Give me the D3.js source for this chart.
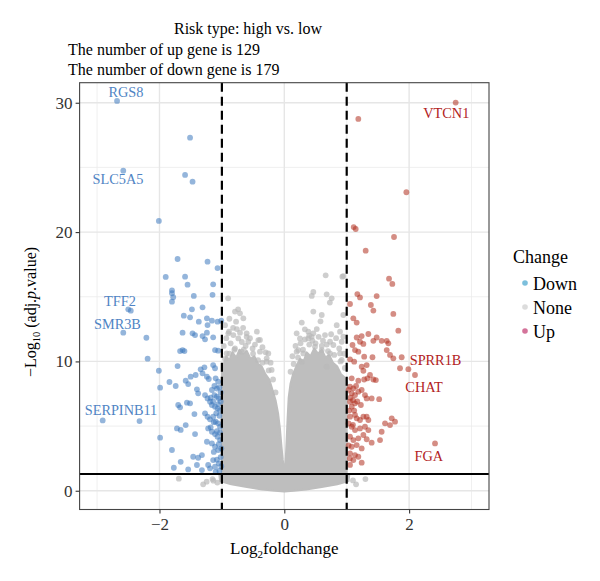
<!DOCTYPE html>
<html>
<head>
<meta charset="utf-8">
<script src="https://cdn.jsdelivr.net/npm/d3@7"></script>
<style>
  body { margin: 0; background: #fff; }
  svg text { font-family: "Liberation Serif", "Times New Roman", serif; }
</style>
</head>
<body>
<div id="chart"></div>
<script>
// volcano plot: risk type high vs low

const titleLines = ['Risk type: high vs. low', 'The number of up gene is 129', 'The number of down gene is 179'];
const xTicks = [-2, 0, 2];
const xMinor = [-3, -1, 1, 3];
const yTicks = [0, 10, 20, 30];
const yMinor = [5, 15, 25];
const fcCut = [-1, 1];
const pCut = 1.3;
const changeLevels = ['Down', 'None', 'Up'];

// significant down genes [log2FC, -log10 adj.p]
const downPoints = [
  [-2.68, 30.14], [-1.51, 27.3], [-2.58, 24.75], [-1.59, 24.42], [-1.47, 23.9], [-2.01, 20.86],
  [-1.71, 17.92], [-1.23, 17.71], [-1.07, 17.22], [-1.90, 16.53], [-1.59, 16.55], [-1.55, 15.93],
  [-1.14, 15.96], [-1.80, 15.5], [-1.80, 15.27], [-1.78, 14.96], [-1.80, 14.62], [-1.45, 15.06],
  [-1.15, 15.15], [-2.50, 14.03], [-2.46, 13.92], [-2.58, 12.22], [-2.21, 11.83], [-2.19, 10.21],
  [-2.01, 9.28], [-1.99, 7.97], [-1.84, 8.41], [-2.91, 5.44], [-2.32, 5.39], [-1.99, 4.10], [-1.77, 1.78],
  [-1.48, 14.03], [-1.31, 14.18], [-1.61, 13.54], [-1.51, 13.41], [-1.37, 13.07], [-1.24, 13.33],
  [-1.16, 13.15], [-1.07, 13.07], [-1.01, 13.15], [-1.23, 12.81], [-1.63, 12.22], [-1.47, 12.17],
  [-1.43, 12.04], [-1.31, 11.96], [-1.24, 12.22], [-1.27, 11.71], [-1.14, 11.86], [-1.67, 10.80],
  [-1.63, 10.88], [-1.60, 10.80], [-1.11, 10.88], [-1.06, 10.83], [-1.71, 9.64], [-1.74, 8.10],
  [-1.58, 8.51], [-1.50, 8.82], [-1.42, 8.95], [-1.34, 9.39], [-1.28, 9.54], [-1.24, 8.82],
  [-1.21, 8.64], [-1.14, 9.72], [-1.11, 9.47], [-1.10, 8.69], [-1.06, 8.43], [-1.31, 9.08],
  [-1.54, 8.25], [-1.40, 7.84], [-1.38, 7.53], [-1.16, 7.79], [-1.12, 7.40], [-1.08, 7.27],
  [-1.05, 7.14], [-1.27, 7.40], [-1.23, 7.14], [-1.19, 6.88], [-1.16, 6.63], [-1.11, 6.50],
  [-1.07, 6.37], [-1.03, 6.24], [-1.70, 6.63], [-1.67, 6.45], [-1.56, 6.81], [-1.51, 6.76],
  [-1.44, 5.93], [-1.27, 5.99], [-1.23, 5.72], [-1.19, 5.52], [-1.14, 5.72], [-1.10, 5.34],
  [-1.06, 5.21], [-1.03, 4.95], [-1.72, 4.82], [-1.66, 4.70], [-1.58, 5.08], [-1.43, 4.38],
  [-1.22, 4.82], [-1.16, 4.56], [-1.11, 4.38], [-1.07, 4.18], [-1.03, 3.92], [-1.24, 3.79],
  [-1.16, 3.66], [-1.11, 3.40], [-1.06, 3.15], [-1.01, 3.28], [-1.80, 3.15], [-1.66, 2.24],
  [-1.46, 2.63], [-1.38, 2.55], [-1.32, 2.76], [-1.40, 1.99], [-1.22, 1.99], [-1.14, 2.37],
  [-1.11, 1.86], [-1.05, 2.12], [-1.54, 1.65], [-1.32, 1.60], [-1.19, 1.73],
  [-1.02, 7.6], [-1.04, 8.0], [-1.08, 7.9], [-1.12, 8.1], [-1.18, 7.2], [-1.14, 6.9], [-1.06, 6.7],
  [-1.02, 6.9], [-1.09, 6.0], [-1.04, 5.8], [-1.13, 5.3], [-1.18, 4.9], [-1.03, 4.5], [-1.08, 4.6],
  [-1.05, 3.6], [-1.13, 3.0], [-1.02, 2.6], [-1.08, 2.4], [-1.01, 1.9], [-1.04, 1.55], [-1.10, 1.45]
];

// significant up genes
const upPoints = [
  [2.746, 30.01], [1.186, 28.75], [1.956, 23.08], [1.112, 20.39], [1.144, 20.24], [1.758, 19.62],
  [1.304, 18.56], [1.678, 16.40], [1.731, 15.99], [1.17, 15.21], [1.213, 14.95], [1.48, 15.05],
  [1.053, 14.44], [1.387, 14.36], [1.427, 13.93], [1.747, 13.67], [1.106, 13.33], [1.16, 13.0],
  [1.827, 12.38], [1.347, 12.12], [1.24, 11.96], [1.427, 11.59], [1.48, 11.85], [1.56, 11.59],
  [1.641, 11.59], [1.667, 11.40], [1.16, 11.85], [1.213, 11.52], [1.267, 11.35], [1.093, 11.27],
  [1.133, 10.88], [1.186, 10.75], [1.641, 10.88], [1.694, 10.5], [1.747, 10.24], [1.28, 10.37],
  [1.413, 10.32], [1.053, 10.16], [1.12, 9.98], [1.881, 10.32], [1.854, 9.47], [1.988, 9.4],
  [1.24, 9.59], [1.32, 9.72], [1.267, 9.28], [2.094, 8.95], [1.08, 8.69], [1.186, 8.51],
  [1.28, 8.6], [1.333, 8.69], [1.373, 8.95], [1.427, 8.6], [1.467, 8.56], [1.053, 8.05],
  [1.106, 7.92], [1.15, 8.1], [1.08, 7.53], [1.133, 7.4], [1.186, 7.66], [1.24, 7.79],
  [1.293, 7.4], [1.32, 7.14], [1.52, 7.08], [1.053, 6.88], [1.133, 6.76], [1.227, 6.63],
  [1.4, 7.14], [1.08, 6.5], [1.053, 5.73], [1.133, 5.86], [1.16, 5.6], [1.213, 5.47],
  [1.267, 5.73], [1.32, 5.73], [1.347, 5.47], [1.721, 5.6], [1.774, 5.34], [1.614, 5.21],
  [1.694, 5.08], [1.08, 4.95], [1.133, 4.69], [1.213, 4.82], [1.293, 4.95], [1.347, 4.69],
  [1.56, 4.56], [1.534, 3.92], [1.053, 4.18], [1.106, 3.92], [1.186, 4.05], [1.267, 4.31],
  [1.32, 3.98], [1.4, 3.72], [1.08, 3.40], [1.16, 3.53], [1.24, 3.27], [1.053, 2.89],
  [1.133, 2.76], [1.186, 2.63], [1.106, 2.37], [1.24, 2.17], [1.053, 2.0], [2.415, 3.66],
  [1.03, 7.8], [1.06, 7.2], [1.10, 7.0], [1.04, 6.2], [1.12, 6.2], [1.17, 6.9], [1.03, 5.2],
  [1.10, 5.1], [1.03, 3.5], [1.05, 2.5]
];

// not significant genes: outline of the dense core, then the scattered ones around it
const noneCore = [
  [-1.0, 1.3], [-1.0, 9.2], [-0.97, 9.8], [-0.93, 10.4], [-0.88, 10.1], [-0.83, 10.7], [-0.77, 10.3],
  [-0.72, 10.9], [-0.66, 10.5], [-0.6, 10.8], [-0.54, 10.2], [-0.48, 10.4], [-0.42, 9.8], [-0.36, 9.6],
  [-0.3, 9.0], [-0.24, 8.6], [-0.19, 7.8], [-0.14, 7.0], [-0.1, 6.0], [-0.07, 4.8], [-0.045, 3.4],
  [-0.025, 2.4], [-0.01, 1.8], [0.0, 1.5], [0.01, 1.8], [0.025, 2.6], [0.04, 4.2], [0.055, 5.8],
  [0.07, 7.2], [0.1, 8.3], [0.14, 9.0], [0.19, 9.6], [0.25, 10.2], [0.31, 10.0], [0.36, 10.7],
  [0.42, 10.4], [0.48, 11.0], [0.54, 10.6], [0.6, 10.9], [0.66, 10.3], [0.72, 10.5], [0.78, 9.9],
  [0.85, 9.6], [0.91, 9.0], [0.96, 8.8], [1.0, 8.4], [1.0, 1.3], [1.04, 1.2], [1.03, 0.75],
  [0.85, 0.5], [0.6, 0.28], [0.35, 0.1], [0.15, 0.0], [0.0, -0.05], [-0.15, 0.0], [-0.35, 0.1],
  [-0.6, 0.28], [-0.85, 0.5], [-1.03, 0.75], [-1.04, 1.2]
];
const nonePoints = [
  [-0.90, 14.88], [0.663, 16.66], [0.93, 16.55], [0.465, 15.37], [0.44, 15.06], [0.679, 15.19],
  [0.759, 14.88], [0.946, 16.6], [0.73, 14.55], [-0.79, 13.85], [-0.74, 14.03], [-0.71, 13.72],
  [-0.886, 12.3], [-0.816, 12.04], [-0.736, 11.78], [-0.603, 11.9], [-0.577, 11.52], [-0.416, 11.65],
  [-0.256, 10.62], [-0.282, 10.24], [-0.79, 11.0], [-0.683, 10.75], [-0.39, 10.75], [0.465, 13.85],
  [0.6, 13.59], [0.33, 12.48], [0.385, 12.3], [0.438, 11.9], [0.198, 12.17], [0.251, 11.78],
  [0.652, 12.04], [0.733, 11.52], [0.786, 11.27], [0.893, 12.3], [0.92, 11.52], [0.225, 10.88],
  [0.305, 10.62], [0.492, 11.14], [0.6, 10.88], [-0.773, 13.07], [-0.656, 13.33], [-0.71, 12.22],
  [-0.603, 12.17], [-0.39, 11.66], [-0.508, 11.0], [-0.897, 12.17], [-0.924, 10.62], [-0.283, 9.98],
  [-0.203, 9.34], [0.946, 13.59], [0.465, 12.17], [0.385, 11.78], [0.732, 10.62], [0.198, 10.75],
  [0.278, 9.98], [0.893, 10.62], [0.92, 10.11], [0.946, 11.91], [0.679, 9.59],
  [-0.95, 10.2], [-0.88, 10.6], [-0.8, 10.9], [-0.65, 10.9], [-0.5, 10.6], [-0.42, 10.1],
  [-0.35, 9.9], [-0.25, 9.3], [-0.18, 8.6], [-0.14, 7.6], [0.1, 9.2], [0.15, 9.8], [0.22, 10.3],
  [0.3, 10.9], [0.4, 11.3], [0.5, 11.4], [0.6, 11.2], [0.7, 10.8], [0.8, 10.5], [0.9, 10.0],
  [0.97, 9.5], [-1.69, 0.93], [-1.244, 0.7], [-1.137, 0.78], [-1.073, 0.63], [1.1, 0.8],
  [1.15, 0.5], [1.3, 0.9], [-1.3, 0.5], [-1.15, 0.9],
  [-0.97, 11.2], [-0.93, 11.8], [-0.86, 11.4], [-0.82, 12.6], [-0.76, 12.5], [-0.68, 11.5],
  [-0.62, 11.2], [-0.55, 11.8], [-0.47, 11.3], [-0.44, 12.3], [-0.35, 11.1], [-0.3, 10.7],
  [-0.22, 9.9], [-0.95, 12.8], [-0.88, 13.3], [-0.66, 12.6], [0.13, 10.4], [0.18, 11.2],
  [0.26, 11.4], [0.33, 11.7], [0.4, 12.0], [0.45, 11.6], [0.55, 11.9], [0.62, 11.6],
  [0.68, 11.3], [0.75, 12.1], [0.83, 11.8], [0.88, 11.0], [0.96, 10.6], [0.52, 12.5],
  [0.58, 13.1], [0.28, 13.0], [0.84, 12.8]
];

// labelled genes, text centre in data units
const geneLabels = [
  { gene: 'RGS8', change: 'Down', x: -2.537, y: 30.86 },
  { gene: 'SLC5A5', change: 'Down', x: -2.665, y: 24.09 },
  { gene: 'TFF2', change: 'Down', x: -2.633, y: 14.67 },
  { gene: 'SMR3B', change: 'Down', x: -2.673, y: 12.87 },
  { gene: 'SERPINB11', change: 'Down', x: -2.617, y: 6.24 },
  { gene: 'VTCN1', change: 'Up', x: 2.596, y: 29.19 },
  { gene: 'SPRR1B', change: 'Up', x: 2.423, y: 10.11 },
  { gene: 'CHAT', change: 'Up', x: 2.239, y: 8.04 },
  { gene: 'FGA', change: 'Up', x: 2.316, y: 2.68 }
];

const W = 600, H = 581;
const margin = { top: 82.7, right: 111, bottom: 71.5, left: 79.6 };
const width = W - margin.left - margin.right;
const height = H - margin.top - margin.bottom;

const pointColor = { Down: '#3c78be', None: '#b9b9b9', Up: '#b0301f' };
const keyColor = { Down: '#7cbfdc', None: '#dcdcdc', Up: '#d4739a' };
const labelColor = { Down: '#4f84c4', Up: '#b22222' };

const svg = d3.select('#chart')
  .append('svg')
  .attr('width', W)
  .attr('height', H);

const g = svg.append('g')
  .attr('transform', `translate(${margin.left},${margin.top})`);

const x = d3.scaleLinear().domain([-3.28, 3.28]).range([0, width]);
const y = d3.scaleLinear().domain([-1.45, 31.55]).range([height, 0]);

// grid
g.selectAll('.vminor').data(xMinor).join('line')
  .attr('x1', d => x(d)).attr('x2', d => x(d)).attr('y1', 0).attr('y2', height)
  .attr('stroke', '#ebebeb').attr('stroke-width', 0.8);
g.selectAll('.hminor').data(yMinor).join('line')
  .attr('y1', d => y(d)).attr('y2', d => y(d)).attr('x1', 0).attr('x2', width)
  .attr('stroke', '#ebebeb').attr('stroke-width', 0.8);
g.selectAll('.vmajor').data(xTicks).join('line')
  .attr('x1', d => x(d)).attr('x2', d => x(d)).attr('y1', 0).attr('y2', height)
  .attr('stroke', '#e6e6e6').attr('stroke-width', 1.4);
g.selectAll('.hmajor').data(yTicks).join('line')
  .attr('y1', d => y(d)).attr('y2', d => y(d)).attr('x1', 0).attr('x2', width)
  .attr('stroke', '#e6e6e6').attr('stroke-width', 1.4);

// dense grey core
const coreLine = d3.line()
  .x(d => x(d[0]))
  .y(d => y(d[1]))
  .curve(d3.curveLinearClosed);

g.append('path')
  .datum(noneCore)
  .attr('d', coreLine)
  .attr('fill', '#bebebe')
  .attr('stroke', '#bebebe')
  .attr('stroke-width', 2)
  .attr('stroke-linejoin', 'round');

function drawPoints(data, change) {
  g.append('g')
    .selectAll('circle')
    .data(data)
    .join('circle')
    .attr('cx', d => x(d[0]))
    .attr('cy', d => y(d[1]))
    .attr('r', 2.9)
    .attr('fill', pointColor[change])
    .attr('fill-opacity', change === 'None' ? 0.7 : 0.55);
}
drawPoints(nonePoints, 'None');
drawPoints(downPoints, 'Down');
drawPoints(upPoints, 'Up');

// cut-off lines
g.selectAll('.vcut').data(fcCut).join('line')
  .attr('x1', d => x(d)).attr('x2', d => x(d)).attr('y1', 0).attr('y2', height)
  .attr('stroke', '#000').attr('stroke-width', 2.2)
  .attr('stroke-dasharray', '9,5');
g.append('line')
  .attr('x1', 0).attr('x2', width).attr('y1', y(pCut)).attr('y2', y(pCut))
  .attr('stroke', '#000').attr('stroke-width', 2);

// gene labels
g.selectAll('.gene').data(geneLabels).join('text')
  .attr('x', d => x(d.x))
  .attr('y', d => y(d.y))
  .attr('dy', '0.35em')
  .attr('text-anchor', 'middle')
  .style('font-size', '14.3px')
  .attr('fill', d => labelColor[d.change])
  .text(d => d.gene);

// panel border
g.append('rect')
  .attr('width', width).attr('height', height)
  .attr('fill', 'none').attr('stroke', '#444').attr('stroke-width', 1.1);

// axes
const xAxis = g.append('g')
  .attr('transform', `translate(0,${height})`)
  .call(d3.axisBottom(x).tickValues(xTicks).tickFormat(d3.format('d')).tickSize(4).tickPadding(4));
const yAxis = g.append('g')
  .call(d3.axisLeft(y).tickValues(yTicks).tickFormat(d3.format('d')).tickSize(4).tickPadding(3));
[xAxis, yAxis].forEach(a => {
  a.select('.domain').remove();
  a.selectAll('line').attr('stroke', '#333').attr('stroke-width', 1.1);
  a.selectAll('text')
    .attr('fill', '#333')
    .style('font-size', '17px')
    .style('font-family', '"Liberation Serif", serif');
});

// axis titles
const xTitle = svg.append('text')
  .attr('x', margin.left + width / 2)
  .attr('y', 554)
  .attr('text-anchor', 'middle')
  .style('font-size', '17px');
xTitle.append('tspan').text('Log');
xTitle.append('tspan').attr('dy', 4).style('font-size', '11px').text('2');
xTitle.append('tspan').attr('dy', -4).text('foldchange');

const yTitle = svg.append('text')
  .attr('transform', 'translate(36,312) rotate(-90)')
  .attr('text-anchor', 'middle')
  .style('font-size', '16px');
yTitle.append('tspan').text('\u2212Log');
yTitle.append('tspan').attr('dy', 4).style('font-size', '10.5px').text('10');
yTitle.append('tspan').attr('dy', -4).text(' (adj.');
yTitle.append('tspan').style('font-style', 'italic').text('p');
yTitle.append('tspan').text('.value)');

// title lines
svg.append('text')
  .attr('x', 248).attr('y', 34)
  .attr('text-anchor', 'middle')
  .style('font-size', '16px')
  .text(titleLines[0]);
svg.selectAll('.sub').data(titleLines.slice(1)).join('text')
  .attr('x', 68)
  .attr('y', (d, i) => 54.5 + i * 20)
  .style('font-size', '16px')
  .text(d => d);

// legend
const legend = svg.append('g')
  .attr('transform', 'translate(513,263)');
legend.append('text')
  .style('font-size', '18px')
  .text('Change');
const key = legend.selectAll('.key').data(changeLevels).join('g')
  .attr('transform', (d, i) => `translate(12,${20 + i * 24})`);
key.append('circle')
  .attr('r', 2.8)
  .attr('fill', d => keyColor[d]);
key.append('text')
  .attr('x', 8)
  .attr('y', 6.5)
  .style('font-size', '18px')
  .text(d => d);
</script>
</body>
</html>
